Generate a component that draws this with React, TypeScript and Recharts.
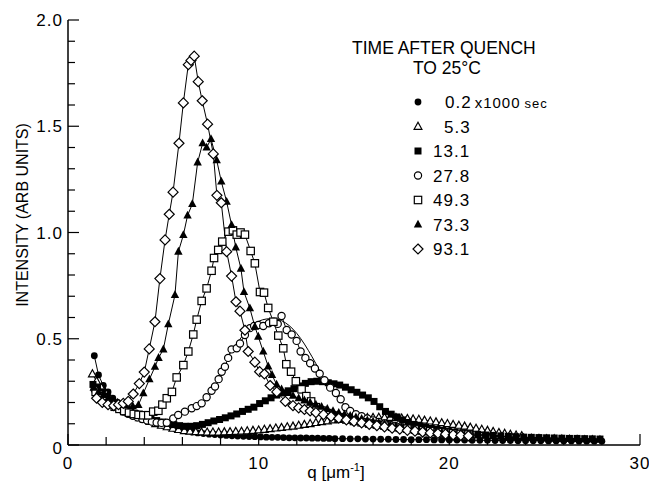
import React from "react"
import { ComposedChart, Line, XAxis, YAxis } from "recharts"

const FONT = '"Liberation Sans", Arial, Helvetica, sans-serif'
const INK = "#000"

type Pt = [number, number]

// time after quench 0.2 x1000 sec (filled circles)
const s02: Pt[] = [
  [1.38, 0.42], [1.6, 0.33], [1.85, 0.28], [2.1, 0.25], [2.35, 0.22], [2.6, 0.2], [2.85, 0.18],
  [3.1, 0.165], [3.35, 0.15], [3.6, 0.14], [3.85, 0.13], [4.1, 0.12], [4.4, 0.11], [4.7, 0.1],
  [5.0, 0.092], [5.3, 0.085], [5.6, 0.078], [5.9, 0.072], [6.2, 0.066], [6.5, 0.061], [6.8, 0.057],
  [7.1, 0.054], [7.4, 0.051], [7.7, 0.049], [8.0, 0.047], [8.3, 0.045], [8.6, 0.043], [8.9, 0.042],
  [9.2, 0.041], [9.5, 0.04], [9.8, 0.039], [10.1, 0.038], [10.4, 0.037], [10.7, 0.036], [11.0, 0.036],
  [11.3, 0.035], [11.6, 0.034], [11.9, 0.034], [12.2, 0.033], [12.5, 0.033], [12.8, 0.032], [13.1, 0.032],
  [13.4, 0.031], [13.7, 0.031], [14.0, 0.03], [14.4, 0.03], [14.8, 0.029], [15.2, 0.029], [15.6, 0.028],
  [16.0, 0.028], [16.4, 0.027], [16.8, 0.027], [17.2, 0.026], [17.6, 0.026], [18.0, 0.025], [18.4, 0.025],
  [18.8, 0.025], [19.2, 0.024], [19.6, 0.024], [20.0, 0.023], [20.4, 0.023], [20.8, 0.023], [21.2, 0.022],
  [21.6, 0.022], [22.0, 0.022], [22.4, 0.021], [22.8, 0.021], [23.2, 0.021], [23.6, 0.02], [24.0, 0.02],
  [24.4, 0.02], [24.8, 0.02], [25.2, 0.019], [25.6, 0.019], [26.0, 0.019], [26.4, 0.019], [26.8, 0.018],
  [27.2, 0.018], [27.6, 0.018], [28.0, 0.018],
]

// 5.3 (open triangles)
const s53: Pt[] = [
  [1.28, 0.334], [1.5, 0.3], [1.75, 0.27], [2.0, 0.24], [2.25, 0.215], [2.5, 0.195], [2.75, 0.178],
  [3.0, 0.162], [3.25, 0.15], [3.5, 0.138], [3.75, 0.128], [4.0, 0.12], [4.3, 0.11], [4.6, 0.1],
  [4.9, 0.092], [5.2, 0.085], [5.5, 0.078], [5.8, 0.072], [6.1, 0.067], [6.4, 0.064], [6.7, 0.062],
  [7.0, 0.061], [7.3, 0.06], [7.6, 0.06], [7.9, 0.06], [8.2, 0.061], [8.5, 0.062], [8.8, 0.063],
  [9.1, 0.064], [9.4, 0.066], [9.7, 0.068], [10.0, 0.07], [10.3, 0.073], [10.6, 0.076], [10.9, 0.079],
  [11.2, 0.082], [11.5, 0.085], [11.8, 0.088], [12.1, 0.092], [12.4, 0.096], [12.7, 0.1], [13.0, 0.105],
  [13.3, 0.109], [13.6, 0.113], [13.9, 0.117], [14.2, 0.12], [14.5, 0.122], [14.8, 0.124], [15.1, 0.126],
  [15.4, 0.127], [15.7, 0.128], [16.0, 0.129], [16.3, 0.13], [16.6, 0.13], [16.9, 0.129], [17.2, 0.128],
  [17.5, 0.126], [17.8, 0.124], [18.1, 0.122], [18.4, 0.12], [18.7, 0.116], [19.0, 0.112], [19.3, 0.108],
  [19.6, 0.104], [19.9, 0.1], [20.2, 0.096], [20.5, 0.092], [20.8, 0.088], [21.1, 0.083], [21.4, 0.078],
  [21.7, 0.073], [22.0, 0.068], [22.3, 0.063], [22.6, 0.058], [22.9, 0.054], [23.2, 0.05], [23.5, 0.046],
  [23.8, 0.043],
]

// 13.1 (filled squares)
const s131: Pt[] = [
  [1.31, 0.285], [1.55, 0.27], [1.8, 0.25], [2.05, 0.23], [2.3, 0.21], [2.55, 0.195], [2.8, 0.18],
  [3.05, 0.168], [3.3, 0.157], [3.55, 0.147], [3.8, 0.138], [4.05, 0.13], [4.35, 0.122], [4.65, 0.115],
  [4.95, 0.108], [5.25, 0.102], [5.55, 0.096], [5.85, 0.091], [6.15, 0.088], [6.45, 0.088], [6.75, 0.091],
  [7.05, 0.097], [7.35, 0.105], [7.65, 0.113], [7.95, 0.12], [8.25, 0.128], [8.55, 0.137], [8.85, 0.146],
  [9.15, 0.158], [9.45, 0.168], [9.75, 0.178], [10.05, 0.195], [10.35, 0.208], [10.65, 0.222],
  [10.95, 0.235], [11.25, 0.245], [11.55, 0.255], [11.85, 0.265], [12.15, 0.278], [12.45, 0.29],
  [12.75, 0.298], [13.05, 0.3], [13.35, 0.298], [13.65, 0.293], [13.95, 0.288], [14.25, 0.282],
  [14.55, 0.272], [14.85, 0.26], [15.15, 0.248], [15.45, 0.235], [15.75, 0.222], [16.05, 0.205],
  [16.35, 0.18], [16.65, 0.158], [16.95, 0.145], [17.25, 0.132], [17.55, 0.118], [17.85, 0.106],
  [18.15, 0.097], [18.45, 0.09], [18.75, 0.084], [19.05, 0.078], [19.35, 0.073], [19.65, 0.069],
  [19.95, 0.065], [20.3, 0.061], [20.7, 0.057], [21.1, 0.053], [21.5, 0.05], [21.9, 0.047], [22.3, 0.045],
  [22.7, 0.043], [23.1, 0.041], [23.5, 0.039], [23.9, 0.037], [24.3, 0.036], [24.7, 0.035], [25.1, 0.034],
  [25.5, 0.033], [25.9, 0.032], [26.3, 0.031], [26.7, 0.031], [27.1, 0.03], [27.5, 0.029], [27.9, 0.028],
]

// 27.8 (open circles)
const s278: Pt[] = [
  [1.4, 0.26], [1.65, 0.24], [1.9, 0.22], [2.15, 0.2], [2.4, 0.185], [2.65, 0.17], [2.9, 0.158],
  [3.15, 0.147], [3.4, 0.138], [3.65, 0.13], [3.9, 0.122], [4.15, 0.115], [4.4, 0.11], [4.65, 0.106],
  [4.9, 0.104], [5.18, 0.105], [5.52, 0.125], [5.78, 0.141], [6.13, 0.157], [6.49, 0.173], [6.75, 0.183],
  [7.01, 0.196], [7.27, 0.225], [7.53, 0.255], [7.71, 0.275], [7.9, 0.31], [8.06, 0.345], [8.23, 0.368],
  [8.4, 0.41], [8.58, 0.45], [8.85, 0.455], [9.02, 0.478], [9.28, 0.518], [9.54, 0.55], [9.76, 0.56],
  [9.98, 0.565], [10.24, 0.56], [10.54, 0.573], [10.8, 0.58], [11.0, 0.57], [11.2, 0.607], [11.47, 0.541],
  [11.73, 0.52], [11.99, 0.49], [12.2, 0.44], [12.45, 0.41], [12.7, 0.385], [12.95, 0.36],
  [13.2, 0.335], [13.45, 0.305], [13.75, 0.27], [14.05, 0.245], [14.3, 0.215], [14.55, 0.178],
  [14.8, 0.16], [15.1, 0.145], [15.4, 0.135], [15.7, 0.125], [16.0, 0.116], [16.3, 0.108], [16.6, 0.101],
  [16.9, 0.095], [17.2, 0.088], [17.5, 0.082], [17.8, 0.077], [18.1, 0.072], [18.4, 0.068], [18.7, 0.064],
  [19.0, 0.06], [19.3, 0.057], [19.6, 0.054], [19.9, 0.051], [20.2, 0.048], [20.5, 0.046], [20.8, 0.044],
  [21.1, 0.042],
]

// smooth curve drawn through the 27.8 peak
const fit278: Pt[] = [
  [8.4, 0.42], [8.8, 0.47], [9.2, 0.52], [9.6, 0.56], [10.0, 0.582], [10.4, 0.593], [10.8, 0.595],
  [11.2, 0.585], [11.6, 0.562], [12.0, 0.525], [12.4, 0.475], [12.8, 0.415], [13.2, 0.35],
]

// 49.3 (open squares)
const s493: Pt[] = [
  [1.45, 0.25], [1.7, 0.23], [1.95, 0.21], [2.2, 0.195], [2.45, 0.18], [2.7, 0.17], [2.95, 0.16],
  [3.2, 0.152], [3.45, 0.146], [3.7, 0.142], [3.95, 0.14], [4.21, 0.14], [4.47, 0.157], [4.74, 0.161],
  [4.95, 0.19], [5.18, 0.22], [5.45, 0.25], [5.7, 0.318], [6.05, 0.376], [6.31, 0.44], [6.57, 0.52],
  [6.75, 0.59], [7.01, 0.678], [7.27, 0.737], [7.53, 0.82], [7.66, 0.88], [7.88, 0.918], [8.09, 0.957],
  [8.41, 1.004], [8.65, 1.01], [8.85, 0.99], [9.05, 1.0], [9.28, 0.99], [9.58, 0.913], [9.8, 0.855],
  [10.07, 0.72], [10.28, 0.717], [10.5, 0.645], [10.77, 0.58], [11.03, 0.515], [11.29, 0.455],
  [11.45, 0.38], [11.7, 0.345], [11.95, 0.3], [12.25, 0.262], [12.5, 0.23], [12.75, 0.205], [13.0, 0.178],
  [13.3, 0.162], [13.6, 0.15], [13.9, 0.138], [14.2, 0.128], [14.6, 0.12], [15.0, 0.113], [15.4, 0.107],
  [15.8, 0.101], [16.2, 0.096], [16.6, 0.091], [17.0, 0.086], [17.4, 0.081], [17.8, 0.077], [18.2, 0.073],
  [18.6, 0.069], [19.0, 0.065], [19.4, 0.061], [19.8, 0.058], [20.2, 0.055], [20.6, 0.052], [21.0, 0.049],
]

// 73.3 (filled triangles)
const s733: Pt[] = [
  [1.35, 0.27], [1.6, 0.25], [1.85, 0.235], [2.1, 0.22], [2.35, 0.21], [2.6, 0.2], [2.85, 0.192],
  [3.1, 0.186], [3.4, 0.182], [3.69, 0.188], [3.95, 0.243], [4.27, 0.309], [4.56, 0.368], [4.75, 0.41],
  [5.0, 0.45], [5.26, 0.568], [5.61, 0.706], [5.79, 0.91], [6.05, 0.988], [6.27, 1.08], [6.52, 1.134],
  [6.8, 1.33], [7.06, 1.42], [7.27, 1.4], [7.5, 1.44], [7.8, 1.34], [8.04, 1.24], [8.32, 1.145],
  [8.58, 1.035], [8.8, 0.93], [9.07, 0.83], [9.23, 0.72], [9.54, 0.643], [9.8, 0.557], [9.98, 0.51],
  [10.24, 0.44], [10.5, 0.37], [10.7, 0.33], [10.94, 0.285], [11.2, 0.262], [11.5, 0.245], [11.8, 0.232],
  [12.1, 0.22], [12.4, 0.21], [12.7, 0.2], [13.0, 0.19], [13.3, 0.18], [13.6, 0.17], [13.9, 0.16],
  [14.2, 0.152], [14.5, 0.145], [14.8, 0.138], [15.1, 0.13], [15.4, 0.123], [15.7, 0.116], [16.0, 0.11],
  [16.3, 0.104], [16.6, 0.098], [16.9, 0.092], [17.2, 0.087], [17.5, 0.082], [17.8, 0.078], [18.1, 0.074],
  [18.4, 0.07], [18.7, 0.066], [19.0, 0.063], [19.3, 0.06], [19.6, 0.057], [19.9, 0.055], [20.3, 0.052],
  [20.7, 0.049], [21.1, 0.047], [21.5, 0.045], [21.9, 0.043], [22.3, 0.041], [22.7, 0.039], [23.1, 0.038],
  [23.5, 0.036], [23.9, 0.035], [24.3, 0.034], [24.7, 0.033], [25.1, 0.032], [25.5, 0.031], [25.9, 0.03],
  [26.3, 0.029], [26.7, 0.028], [27.1, 0.027], [27.5, 0.027], [27.9, 0.026],
]

// 93.1 (open diamonds)
const s931: Pt[] = [
  [1.5, 0.22], [1.8, 0.2], [2.1, 0.19], [2.4, 0.185], [2.65, 0.19], [2.9, 0.196], [3.16, 0.205],
  [3.42, 0.24], [3.74, 0.289], [4.0, 0.343], [4.26, 0.452], [4.56, 0.58], [4.82, 0.783], [5.09, 0.965],
  [5.31, 1.086], [5.51, 1.19], [5.82, 1.42], [6.05, 1.61], [6.31, 1.79], [6.45, 1.81], [6.62, 1.83],
  [6.83, 1.71], [7.04, 1.62], [7.32, 1.51], [7.62, 1.37], [7.81, 1.175], [8.04, 1.14], [8.32, 0.91],
  [8.58, 0.795], [8.81, 0.674], [9.02, 0.63], [9.28, 0.54], [9.45, 0.44], [9.8, 0.39], [10.05, 0.345],
  [10.3, 0.334], [10.6, 0.28], [10.95, 0.25], [11.4, 0.205], [11.8, 0.185], [12.1, 0.175],
  [12.4, 0.167], [12.7, 0.16], [13.0, 0.152], [13.4, 0.143], [13.8, 0.134], [14.2, 0.126], [14.6, 0.118],
  [15.0, 0.111], [15.4, 0.104], [15.8, 0.097], [16.2, 0.091], [16.6, 0.085], [17.0, 0.079], [17.4, 0.074],
  [17.8, 0.069], [18.2, 0.065], [18.6, 0.061], [19.0, 0.057], [19.4, 0.054], [19.8, 0.051], [20.2, 0.048],
  [20.6, 0.045], [21.0, 0.043],
]

const X_TICKS = [0, 2, 4, 6, 8, 10, 12, 14, 16, 18, 20, 22, 24, 26, 28, 30]
const Y_TICKS = [
  0, 0.1, 0.2, 0.3, 0.4, 0.5, 0.6, 0.7, 0.8, 0.9, 1.0, 1.1, 1.2, 1.3, 1.4, 1.5, 1.6, 1.7, 1.8, 1.9, 2.0,
]

const LEGEND_LABELS = ["0.2", "5.3", "13.1", "27.8", "49.3", "73.3", "93.1"]
const LEGEND_KINDS = ["fc", "ot", "fs", "oc", "os", "ft", "od"]

const rows = (pts: Pt[]) => pts.map(([q, i]) => ({ q, i }))

function Marker({ cx, cy, kind }: { cx: number; cy: number; kind: string }) {
  if (cx == null || cy == null) return null
  const sw = 1.2
  switch (kind) {
    case "fc":
      return <circle cx={cx} cy={cy} r={3.4} fill={INK} />
    case "oc":
      return <circle cx={cx} cy={cy} r={3.6} fill="#fff" stroke={INK} strokeWidth={sw} />
    case "fs":
      return <rect x={cx - 3.5} y={cy - 3.5} width={7} height={7} fill={INK} />
    case "os":
      return <rect x={cx - 3.7} y={cy - 3.7} width={7.4} height={7.4} fill="#fff" stroke={INK} strokeWidth={sw} />
    case "ft":
      return <polygon points={`${cx},${cy - 4.8} ${cx - 4.2},${cy + 3} ${cx + 4.2},${cy + 3}`} fill={INK} />
    case "ot":
      return (
        <polygon
          points={`${cx},${cy - 4.2} ${cx - 3.9},${cy + 2.8} ${cx + 3.9},${cy + 2.8}`}
          fill="#fff"
          stroke={INK}
          strokeWidth={sw}
        />
      )
    case "od":
      return (
        <polygon
          points={`${cx},${cy - 5} ${cx + 5},${cy} ${cx},${cy + 5} ${cx - 5},${cy}`}
          fill="#fff"
          stroke={INK}
          strokeWidth={sw}
        />
      )
    default:
      return null
  }
}

const dotFor = (kind: string) => (p: any) => (
  <Marker key={`${kind}-${p.index}`} cx={p.cx} cy={p.cy} kind={kind} />
)

const isMajorY = (v: number) => Math.round(v * 10) % 5 === 0
const yLabel = (v: number) => (v === 0 ? "0" : v.toFixed(1))

function BottomTick(props: any) {
  const { x, y, payload } = props
  const v = payload.value
  const major = v % 10 === 0
  return (
    <g>
      <line x1={x} x2={x} y1={y} y2={y - (major ? 11 : 8)} stroke={INK} strokeWidth={1.2} />
      {major && (
        <text x={x} y={y + 24} textAnchor="middle" fontSize={17} fontFamily={FONT} fill={INK} letterSpacing={1}>
          {v}
        </text>
      )}
    </g>
  )
}

function TopTick(props: any) {
  const { x, y, payload } = props
  const major = payload.value % 10 === 0
  return <line x1={x} x2={x} y1={y} y2={y + (major ? 11 : 8)} stroke={INK} strokeWidth={1.2} />
}

function LeftTick(props: any) {
  const { x, y, payload } = props
  const v = payload.value
  const major = isMajorY(v)
  return (
    <g>
      <line x1={x} x2={x + (major ? 11 : 7)} y1={y} y2={y} stroke={INK} strokeWidth={1.2} />
      {major && (
        <text
          x={x - 5}
          y={y + (v === 0 ? 3 : 0)}
          dy={6}
          textAnchor="end"
          fontSize={17}
          fontFamily={FONT}
          fill={INK}
          letterSpacing={1}
        >
          {yLabel(v)}
        </text>
      )}
    </g>
  )
}

function RightTick(props: any) {
  const { x, y, payload } = props
  const major = isMajorY(payload.value)
  return <line x1={x} x2={x - (major ? 11 : 7)} y1={y} y2={y} stroke={INK} strokeWidth={1.2} />
}

const axisLine = { stroke: INK, strokeWidth: 1.5 }

export default function App() {
  const series: [Pt[], string][] = [
    [s02, "fc"],
    [s53, "ot"],
    [s131, "fs"],
    [s278, "oc"],
    [s493, "os"],
    [s733, "ft"],
    [s931, "od"],
  ]
  const legendY = [102, 126.5, 151, 175.5, 200, 224.5, 249]

  return (
    <div style={{ position: "absolute", left: 0, top: 0, width: 649, height: 485, background: "#fff" }}>
      <ComposedChart width={649} height={485} margin={{ top: 20, right: 9, bottom: 0, left: 0 }}>
        <XAxis
          xAxisId="b"
          dataKey="q"
          type="number"
          domain={[0, 30]}
          ticks={X_TICKS}
          interval={0}
          height={40}
          tickSize={0}
          tickMargin={0}
          tickLine={false}
          axisLine={axisLine}
          tick={<BottomTick />}
          allowDataOverflow
        />
        <XAxis
          xAxisId="t"
          orientation="top"
          dataKey="q"
          type="number"
          domain={[0, 30]}
          ticks={X_TICKS}
          interval={0}
          height={0}
          tickSize={0}
          tickMargin={0}
          tickLine={false}
          axisLine={axisLine}
          tick={<TopTick />}
          allowDataOverflow
        />
        <YAxis
          yAxisId="l"
          type="number"
          domain={[0, 2]}
          ticks={Y_TICKS}
          interval={0}
          width={68}
          tickSize={0}
          tickMargin={0}
          tickLine={false}
          axisLine={axisLine}
          tick={<LeftTick />}
          allowDataOverflow
        />
        <YAxis
          yAxisId="r"
          orientation="right"
          type="number"
          domain={[0, 2]}
          ticks={Y_TICKS}
          interval={0}
          width={0}
          tickSize={0}
          tickMargin={0}
          tickLine={false}
          axisLine={axisLine}
          tick={<RightTick />}
          allowDataOverflow
        />
        {series.map(([pts, kind]) => (
          <Line
            key={kind}
            xAxisId="b"
            yAxisId="l"
            data={rows(pts)}
            dataKey="i"
            type="linear"
            stroke={INK}
            strokeWidth={1}
            dot={dotFor(kind)}
            activeDot={false}
            isAnimationActive={false}
          />
        ))}
        <Line
          xAxisId="t"
          yAxisId="r"
          data={rows(fit278)}
          dataKey="i"
          type="monotone"
          stroke={INK}
          strokeWidth={1}
          dot={false}
          activeDot={false}
          isAnimationActive={false}
        />
      </ComposedChart>

      <svg
        width={649}
        height={485}
        style={{ position: "absolute", left: 0, top: 0, pointerEvents: "none" }}
        fontFamily={FONT}
      >
        <text x={22} y={215} transform="rotate(-90 22 215)" textAnchor="middle" dy={6} fontSize={16} fill={INK}>
          INTENSITY (ARB UNITS)
        </text>
        <text x={336} y={478} textAnchor="middle" fontSize={17} fill={INK}>
          q [μm
          <tspan fontSize={11} dy={-7}>
            -1
          </tspan>
          <tspan dy={7}>]</tspan>
        </text>

        <text x={352} y={54} fontSize={17.5} fill={INK}>
          TIME AFTER QUENCH
        </text>
        <text x={413} y={74} fontSize={17.5} fill={INK}>
          TO 25°C
        </text>
        {LEGEND_LABELS.map((label, k) => {
          const cy = legendY[k]
          const tx = k === 0 ? 445 : k === 1 ? 444 : 433
          return (
            <g key={label}>
              <Marker cx={418} cy={cy} kind={LEGEND_KINDS[k]} />
              <text x={tx} y={cy + 6} fontSize={17} fill={INK} letterSpacing={1}>
                {label}
                {k === 0 && (
                  <>
                    <tspan fontSize={15} dx={3}>
                      x1000
                    </tspan>
                    <tspan fontSize={13} dx={4}>
                      sec
                    </tspan>
                  </>
                )}
              </text>
            </g>
          )
        })}
      </svg>
    </div>
  )
}
